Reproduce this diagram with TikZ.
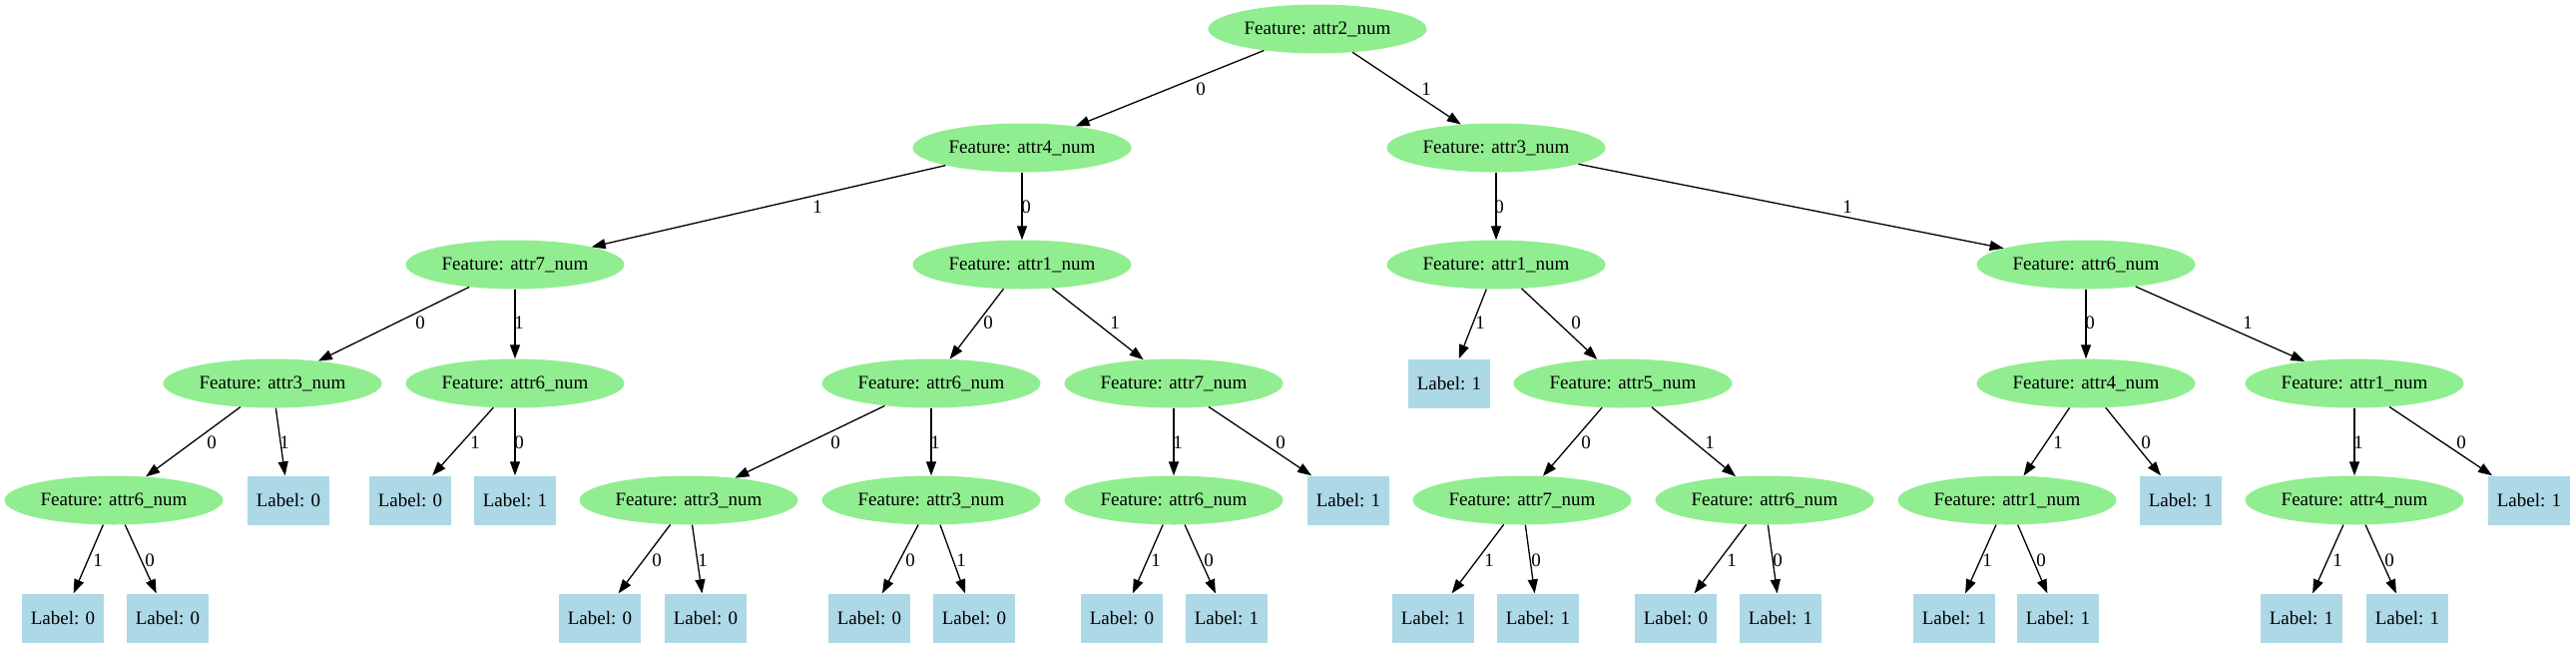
\documentclass[tikz,border=0pt]{standalone}
\usepackage{fontspec}
\setmainfont{Liberation Serif}
\usetikzlibrary{arrows.meta,shapes.geometric}
\definecolor{featfill}{RGB}{144,238,144}
\definecolor{leaffill}{RGB}{173,216,230}
\begin{document}
\begin{tikzpicture}[x=1pt,y=-1pt,
  every node/.style={font=\fontsize{19}{22}\selectfont},
  feat/.style={ellipse,fill=featfill,minimum width=219pt,minimum height=49pt,inner sep=0pt},
  leaf/.style={rectangle,fill=leaffill,minimum width=82pt,minimum height=49pt,inner sep=0pt},
  edge/.style={draw=black,line width=1.3pt,-{Triangle[length=14pt,width=10pt]}},
  lbl/.style={inner sep=0pt}]
\useasboundingbox (0,0) rectangle (2581,649);
% level 0-2
\node[feat] (r) at (1320,29) {Feature: attr2\_num};
\node[feat] (a) at (1024,148) {Feature: attr4\_num};
\node[feat] (b) at (1499,148) {Feature: attr3\_num};
\node[feat] (c) at (516,265) {Feature: attr7\_num};
\node[feat] (d) at (1024,265) {Feature: attr1\_num};
\node[feat] (e) at (1499,265) {Feature: attr1\_num};
\node[feat] (f) at (2090,265) {Feature: attr6\_num};
% level 3
\node[feat] (g) at (273,384) {Feature: attr3\_num};
\node[feat] (h) at (516,384) {Feature: attr6\_num};
\node[feat] (i) at (933,384) {Feature: attr6\_num};
\node[feat] (j) at (1176,384) {Feature: attr7\_num};
\node[leaf] (k) at (1452,384) {Label: 1};
\node[feat] (l) at (1626,384) {Feature: attr5\_num};
\node[feat] (m) at (2090,384) {Feature: attr4\_num};
\node[feat] (n) at (2359,384) {Feature: attr1\_num};
% level 4
\node[feat] (o) at (114,501) {Feature: attr6\_num};
\node[leaf] (p) at (289,501) {Label: 0};
\node[leaf] (q) at (411,501) {Label: 0};
\node[leaf] (s) at (516,501) {Label: 1};
\node[feat] (t) at (690,501) {Feature: attr3\_num};
\node[feat] (u) at (933,501) {Feature: attr3\_num};
\node[feat] (v) at (1176,501) {Feature: attr6\_num};
\node[leaf] (w) at (1351,501) {Label: 1};
\node[feat] (x) at (1525,501) {Feature: attr7\_num};
\node[feat] (y) at (1768,501) {Feature: attr6\_num};
\node[feat] (z) at (2011,501) {Feature: attr1\_num};
\node[leaf] (aa) at (2185,501) {Label: 1};
\node[feat] (ab) at (2359,501) {Feature: attr4\_num};
\node[leaf] (ac) at (2534,501) {Label: 1};
% level 5
\node[leaf] (o1) at (63,619) {Label: 0};
\node[leaf] (o2) at (168,619) {Label: 0};
\node[leaf] (t1) at (601,619) {Label: 0};
\node[leaf] (t2) at (707,619) {Label: 0};
\node[leaf] (u1) at (871,619) {Label: 0};
\node[leaf] (u2) at (976,619) {Label: 0};
\node[leaf] (v1) at (1124,619) {Label: 0};
\node[leaf] (v2) at (1229,619) {Label: 1};
\node[leaf] (x1) at (1436,619) {Label: 1};
\node[leaf] (x2) at (1541,619) {Label: 1};
\node[leaf] (y1) at (1679,619) {Label: 0};
\node[leaf] (y2) at (1784,619) {Label: 1};
\node[leaf] (z1) at (1958,619) {Label: 1};
\node[leaf] (z2) at (2062,619) {Label: 1};
\node[leaf] (ab1) at (2306,619) {Label: 1};
\node[leaf] (ab2) at (2412,619) {Label: 1};
% edges level 0-1
\draw[edge] (r) -- (a) node[lbl] at (1203,89) {0};
\draw[edge] (r) -- (b) node[lbl] at (1429,89) {1};
% level 1-2
\draw[edge] (a) -- (c) node[lbl] at (819,207) {1};
\draw[edge] (a) -- (d) node[lbl] at (1028,207) {0};
\draw[edge] (b) -- (e) node[lbl] at (1502,207) {0};
\draw[edge] (b) -- (f) node[lbl] at (1851,207) {1};
% level 2-3
\draw[edge] (c) -- (g) node[lbl] at (421,323) {0};
\draw[edge] (c) -- (h) node[lbl] at (520,323) {1};
\draw[edge] (d) -- (i) node[lbl] at (990,323) {0};
\draw[edge] (d) -- (j) node[lbl] at (1117,323) {1};
\draw[edge] (e) -- (k) node[lbl] at (1483,323) {1};
\draw[edge] (e) -- (l) node[lbl] at (1579,323) {0};
\draw[edge] (f) -- (m) node[lbl] at (2094,323) {0};
\draw[edge] (f) -- (n) node[lbl] at (2252,323) {1};
% level 3-4
\draw[edge] (g) -- (o) node[lbl] at (212,443) {0};
\draw[edge] (g) -- (p) node[lbl] at (285,443) {1};
\draw[edge] (h) -- (q) node[lbl] at (476,443) {1};
\draw[edge] (h) -- (s) node[lbl] at (520,443) {0};
\draw[edge] (i) -- (t) node[lbl] at (837,443) {0};
\draw[edge] (i) -- (u) node[lbl] at (937,443) {1};
\draw[edge] (j) -- (v) node[lbl] at (1180,443) {1};
\draw[edge] (j) -- (w) node[lbl] at (1283,443) {0};
\draw[edge] (l) -- (x) node[lbl] at (1589,443) {0};
\draw[edge] (l) -- (y) node[lbl] at (1713,443) {1};
\draw[edge] (m) -- (z) node[lbl] at (2062,443) {1};
\draw[edge] (m) -- (aa) node[lbl] at (2150,443) {0};
\draw[edge] (n) -- (ab) node[lbl] at (2363,443) {1};
\draw[edge] (n) -- (ac) node[lbl] at (2466,443) {0};
% level 4-5
\draw[edge] (o) -- (o1) node[lbl] at (98,561) {1};
\draw[edge] (o) -- (o2) node[lbl] at (150,561) {0};
\draw[edge] (t) -- (t1) node[lbl] at (658,561) {0};
\draw[edge] (t) -- (t2) node[lbl] at (704,561) {1};
\draw[edge] (u) -- (u1) node[lbl] at (912,561) {0};
\draw[edge] (u) -- (u2) node[lbl] at (963,561) {1};
\draw[edge] (v) -- (v1) node[lbl] at (1158,561) {1};
\draw[edge] (v) -- (v2) node[lbl] at (1211,561) {0};
\draw[edge] (x) -- (x1) node[lbl] at (1492,561) {1};
\draw[edge] (x) -- (x2) node[lbl] at (1539,561) {0};
\draw[edge] (y) -- (y1) node[lbl] at (1735,561) {1};
\draw[edge] (y) -- (y2) node[lbl] at (1781,561) {0};
\draw[edge] (z) -- (z1) node[lbl] at (1991,561) {1};
\draw[edge] (z) -- (z2) node[lbl] at (2045,561) {0};
\draw[edge] (ab) -- (ab1) node[lbl] at (2342,561) {1};
\draw[edge] (ab) -- (ab2) node[lbl] at (2394,561) {0};
\end{tikzpicture}
\end{document}
